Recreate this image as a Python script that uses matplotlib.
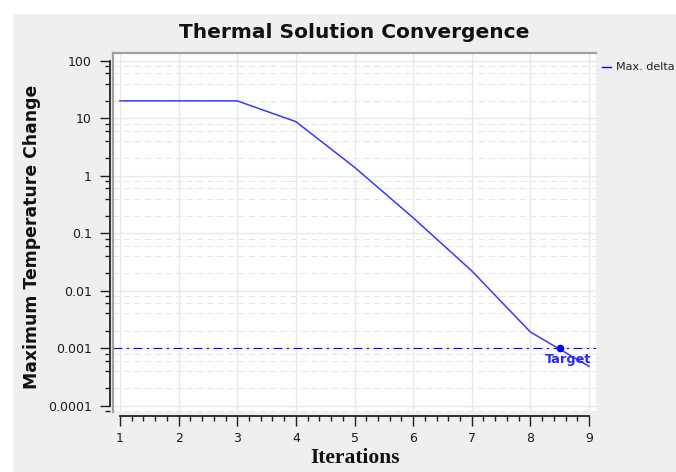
import matplotlib
matplotlib.use("Agg")
import matplotlib.pyplot as plt
from matplotlib.ticker import FixedLocator, FixedFormatter, LogLocator, MultipleLocator, NullFormatter
from matplotlib.patches import Rectangle

# ---- data ----
iterations = [1, 2, 3, 4, 5, 6, 7, 8, 9]
max_delta = [20, 20, 20, 8.7, 1.4, 0.185, 0.022, 0.0019, 0.00048]
target_value = 0.001
target_iteration = 8.5
series_name = "Max. delta"
ytick_values = [1e-4, 1e-3, 1e-2, 1e-1, 1, 10, 100]
ytick_labels = ["0.0001", "0.001", "0.01", "0.1", "1", "10", "100"]
xtick_values = [1, 2, 3, 4, 5, 6, 7, 8, 9]

W, H = 676, 472
fig = plt.figure(figsize=(W / 100, H / 100), dpi=100, facecolor="#efefef")

# white border strips (left / top)
fig.patches.append(Rectangle((0, 0), 12 / W, 1, transform=fig.transFigure, color="white", zorder=-10))
fig.patches.append(Rectangle((0, 1 - 13 / H), 1, 13 / H, transform=fig.transFigure, color="white", zorder=-10))

# canvas
left, right, top, bottom = 113, 596, 53, 412
ax = fig.add_axes([left / W, 1 - bottom / H, (right - left) / W, (bottom - top) / H])
ax.set_facecolor("white")
ax.set_yscale("log")
ax.set_xlim(0.881, 9.119)
ax.set_ylim(10 ** -4.113, 10 ** 2.134)

# grid
ax.xaxis.set_major_locator(FixedLocator(xtick_values))
ax.xaxis.set_minor_locator(MultipleLocator(0.2))
ax.yaxis.set_major_locator(FixedLocator(ytick_values))
ax.yaxis.set_major_formatter(FixedFormatter(ytick_labels))
ax.yaxis.set_minor_locator(LogLocator(base=10, subs=[2, 4, 6, 8]))
ax.yaxis.set_minor_formatter(NullFormatter())
ax.grid(True, which="major", axis="both", color="#e8e8e8", lw=1.0, ls="-", zorder=0)
ax.grid(True, which="minor", axis="y", color="#e6e6e6", lw=0.75, ls=(0, (6, 4)), zorder=0)
ax.set_axisbelow(True)

# spines
for s in ("top", "right"):
    ax.spines[s].set_visible(False)
ax.spines["left"].set_position(("outward", 2.5))
ax.spines["bottom"].set_position(("outward", 2.9))
ax.spines["left"].set_bounds(1e-4, 100)
ax.spines["bottom"].set_bounds(1, 9)
for s in ("left", "bottom"):
    ax.spines[s].set_linewidth(1.3)
    ax.spines[s].set_color("#202020")

ax.tick_params(axis="both", which="major", length=7.2, width=1.0, color="#202020",
               labelsize=9, labelcolor="#1a1a1a")
ax.tick_params(axis="both", which="minor", length=3.6, width=1.0, color="#202020")
ax.tick_params(axis="y", which="major", pad=5.5)
ax.tick_params(axis="x", which="major", pad=4)

# canvas frame (sunken look)
ax.plot([0, 1], [1, 1], transform=ax.transAxes, color="#a0a0a0", lw=1.6, clip_on=False, zorder=5)
ax.plot([0, 0], [0, 1], transform=ax.transAxes, color="#a0a0a0", lw=1.6, clip_on=False, zorder=5)

# data
ax.plot(iterations, max_delta, color="#3a3aff", lw=1.1, zorder=3)
ax.axhline(target_value, color="#0000ff", lw=0.8, ls=(0, (8, 4, 2, 4)), zorder=3)
ax.plot([target_iteration], [target_value], "o", color="#0000ff", ms=4.5, zorder=4)
ax.annotate("Target", xy=(target_iteration, target_value), xytext=(6, -3.5),
            textcoords="offset points", ha="center", va="top", color="#2a2aff",
            fontsize=9.3, fontweight="bold", zorder=6)

# titles
fig.text(354.5 / W, 1 - 32 / H, "Thermal Solution Convergence", ha="center", va="center",
         fontsize=14.5, fontweight="bold", color="#111111")
fig.text(32.5 / W, 1 - 236.5 / H, "Maximum Temperature Change", ha="center", va="center",
         rotation=90, fontsize=12.4, fontweight="bold", color="#111111")
fig.text(355 / W, 1 - 458 / H, "Iterations", ha="center", va="center",
         fontsize=15.5, fontweight="bold", family="Liberation Serif", color="#111111")

# legend (outside right)
fig.lines.append(plt.Line2D([602 / W, 611 / W], [1 - 67 / H, 1 - 67 / H],
                            transform=fig.transFigure, color="#0000ff", lw=1.0))
fig.text(616 / W, 1 - 67 / H, series_name, ha="left", va="center", fontsize=8, color="#202020")

fig.savefig("out.png", dpi=100, facecolor=fig.get_facecolor())
